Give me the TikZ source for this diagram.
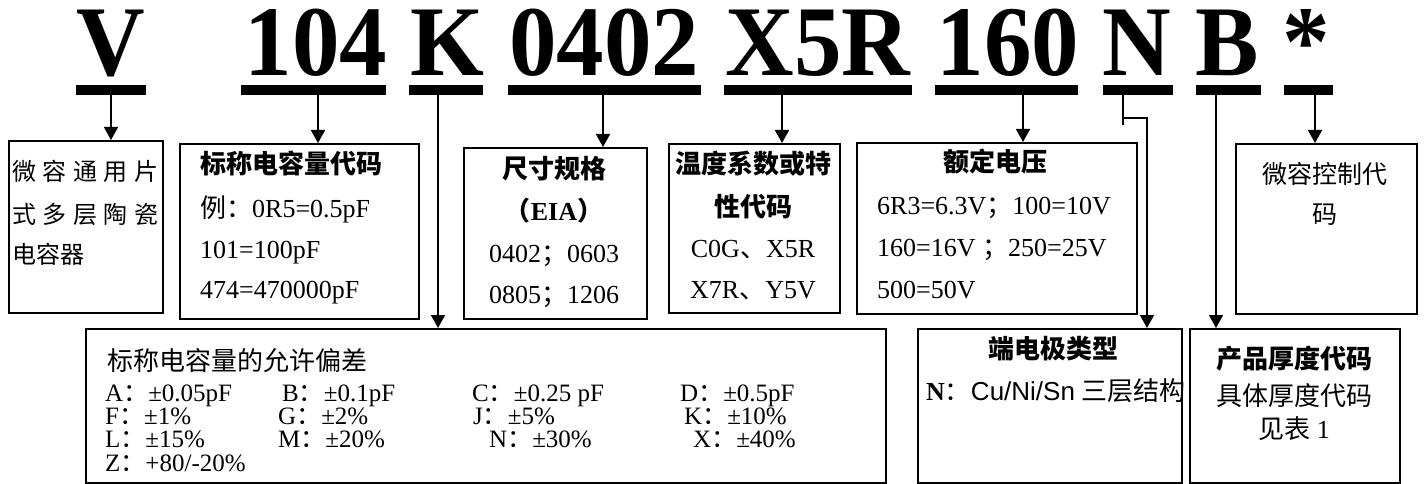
\documentclass[tikz,border=0pt]{standalone}
\usepackage{fontspec}
\setmainfont{Liberation Serif}
\newfontfamily\codeface[FakeStretch=0.95]{Liberation Serif}
\newfontfamily\cjk{Noto Sans CJK SC}
\newfontfamily\arialfont{Liberation Sans}
\usetikzlibrary{arrows.meta, positioning}

\newcommand{\codefont}{\codeface\fontsize{100}{100}\selectfont\bfseries}
\newcommand{\textsz}{\fontsize{26}{26}\selectfont}
\newcommand{\songsz}{\fontsize{24}{24}\selectfont}
\newcommand{\qcolon}{{\cjk ：}}
\newcommand{\qsemi}{{\cjk ；}}
\newcommand{\tcol}[2]{\makebox[#1pt][l]{#2}}

\tikzset{
    box/.style={draw, line width=1.6pt, inner sep=0pt, anchor=north west},
    code/.style={font=\codefont, inner sep=0pt, anchor=base},
    bar/.style={fill, inner sep=0pt, minimum height=10pt, yshift=-14pt},
    arr/.style={line width=1.6pt, -{Triangle[length=13pt, width=14pt]}},
    lbl/.style={font=\textsz, inner sep=0pt, anchor=base west},
    clbl/.style={font=\textsz, inner sep=0pt, anchor=base},
}

\begin{document}
\begin{tikzpicture}[x=1pt, y=-1pt]
    \useasboundingbox (0,0) rectangle (1426,484);

    % part number
    \node[code] (cV) at (110.5,76) {V};
    \node[code] (cCap) at (316,76) {104};
    \node[code] (cK) at (447,76) {K};
    \node[code] (cSize) at (604,76) {0402};
    \node[code] (cTemp) at (818,76) {X5R};
    \node[code] (cVolt) at (1008,76) {160};
    \node[code] (cN) at (1137,76) {N};
    \node[code] (cB) at (1227,76) {B};
    \node[code] (cStar) at (1306,76) {*};

    \node[bar, minimum width=70pt] (bV) at (111,76) {};
    \node[bar, minimum width=145pt] (bCap) at (313.5,76) {};
    \node[bar, minimum width=74pt] (bK) at (446,76) {};
    \node[bar, minimum width=193pt] (bSize) at (604.5,76) {};
    \node[bar, minimum width=188pt] (bTemp) at (818,76) {};
    \node[bar, minimum width=143pt] (bVolt) at (1006.5,76) {};
    \node[bar, minimum width=70pt] (bN) at (1138,76) {};
    \node[bar, minimum width=65pt] (bB) at (1228.5,76) {};
    \node[bar, minimum width=49pt] (bStar) at (1308.5,76) {};

    % boxes
    \node[box, minimum width=154pt, minimum height=172pt] (series) at (8,140) {};
    \node[box, minimum width=239pt, minimum height=175pt] (cap) at (179,143) {};
    \node[box, minimum width=183pt, minimum height=171pt] (size) at (463,147) {};
    \node[box, minimum width=171pt, minimum height=169pt] (temp) at (668,143) {};
    \node[box, minimum width=280pt, minimum height=171pt] (volt) at (856,142) {};
    \node[box, minimum width=181pt, minimum height=170pt] (ctrl) at (1235,143) {};
    \node[box, minimum width=800pt, minimum height=154pt] (tol) at (85,328) {};
    \node[box, minimum width=264pt, minimum height=154pt] (term) at (917,328) {};
    \node[box, minimum width=210pt, minimum height=154pt] (thick) at (1189,328) {};

    % connectors
    \draw[arr] (bV.south) -- (bV.south |- series.north);
    \draw[arr] (318,0 |- bCap.south) -- (318,0 |- cap.north);
    \draw[arr] (438,0 |- bK.south) -- (438,0 |- tol.north);
    \draw[arr] (603,0 |- bSize.south) -- (603,0 |- size.north);
    \draw[arr] (782,0 |- bTemp.south) -- (782,0 |- temp.north);
    \draw[arr] (1023,0 |- bVolt.south) -- (1023,0 |- volt.north);
    \draw[arr] (1123,0 |- bN.south) |- (1147,118) -- (1147,0 |- term.north);
    \draw[line width=1.6pt] (1123,118) -- (1123,125);
    \draw[arr] (1216,0 |- bB.south) -- (1216,0 |- thick.north);
    \draw[arr] (1315,0 |- bStar.south) -- (1315,0 |- ctrl.north);

    % series
    \node[lbl, font=\songsz\cjk] (s1) at (12,180) {\makebox[146pt][s]{微\hfill 容\hfill 通\hfill 用\hfill 片}};
    \node[lbl, font=\songsz\cjk] (s2) at (12,223) {\makebox[146pt][s]{式\hfill 多\hfill 层\hfill 陶\hfill 瓷}};
    \node[lbl, font=\songsz\cjk] (s3) at (12,263) {电容器};

    % capacitance code
    \node[lbl] (capT) at (200,173) {\cjk\bfseries 标称电容量代码};
    \node[lbl] (cap1) at (200,217) {{\cjk 例：}0R5=0.5pF};
    \node[lbl] (cap2) at (200,258) {101=100pF};
    \node[lbl] (cap3) at (200,298) {474=470000pF};

    % size
    \node[clbl] (sizeT) at (554,178) {\cjk\bfseries 尺寸规格};
    \node[clbl] (sizeE) at (554,220) {\bfseries{\cjk （}EIA{\cjk ）}};
    \node[clbl] (size1) at (554,262) {0402\qsemi 0603};
    \node[clbl] (size2) at (554,303) {0805\qsemi 1206};

    % temperature
    \node[clbl] (tempT) at (753,173) {\cjk\bfseries 温度系数或特};
    \node[clbl] (tempT2) at (753,216) {\cjk\bfseries 性代码};
    \node[clbl] (temp1) at (753,257) {C0G{\cjk 、}X5R};
    \node[clbl] (temp2) at (753,298) {X7R{\cjk 、}Y5V};

    % voltage
    \node[clbl] (voltT) at (995,171) {\cjk\bfseries 额定电压};
    \node[lbl] (volt1) at (877,214) {6R3=6.3V\qsemi 100=10V};
    \node[lbl] (volt2) at (877,256) {160=16V \qsemi 250=25V};
    \node[lbl] (volt3) at (877,298) {500=50V};

    % control
    \node[clbl, font=\fontsize{25}{25}\selectfont\cjk] (ctrl1) at (1325,183) {微容控制代};
    \node[clbl, font=\fontsize{25}{25}\selectfont\cjk] (ctrl2) at (1325,223) {码};

    % tolerance
    \node[lbl, font=\textsz\cjk] (tolT) at (107,370) {标称电容量的允许偏差};
    \node[lbl, font=\fontsize{25}{23.3}\selectfont, align=left] (tolL) at (105,471) {%
        \tcol{177}{A\qcolon±0.05pF}\tcol{190}{B\qcolon±0.1pF}\tcol{208}{C\qcolon±0.25 pF}D\qcolon±0.5pF\\
        \tcol{173}{F\qcolon±1\%}\tcol{195}{G\qcolon±2\%}\tcol{211}{J\qcolon±5\%}K\qcolon±10\%\\
        \tcol{173}{L\qcolon±15\%}\tcol{211}{M\qcolon±20\%}\tcol{204}{N\qcolon±30\%}X\qcolon±40\%\\
        Z\qcolon+80/-20\%};

    % termination
    \node[clbl] (termT) at (1053,358) {\cjk\bfseries 端电极类型};
    \node[lbl] (term1) at (926,400) {\textbf{N}\qcolon{\arialfont Cu/Ni/Sn} {\cjk 三层结构}};

    % thickness
    \node[clbl] (thickT) at (1294,368) {\cjk\bfseries 产品厚度代码};
    \node[clbl] (thick1) at (1294,405) {\cjk 具体厚度代码};
    \node[clbl] (thick2) at (1294,438) {{\cjk 见表} 1};
\end{tikzpicture}
\end{document}
